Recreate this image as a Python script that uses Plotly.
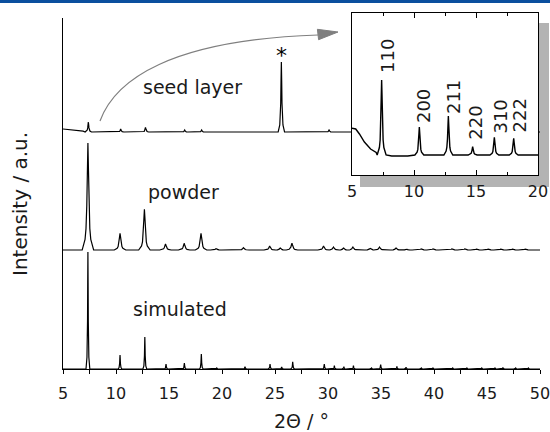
import numpy as np
import plotly.graph_objects as go

# ---------------- data ----------------
# simulated pattern: peak positions (2θ / °) and heights (a.u.)
sim_pos = [7.35, 10.38, 12.72, 14.72, 16.45, 18.05, 19.5, 22.17, 24.53, 25.63,
           26.67, 29.65, 30.6, 31.5, 32.4, 34.1, 34.97, 36.5, 37.36, 38.8,
           39.9, 41.76, 43.1, 44.5, 45.75, 46.5, 47.7, 48.9]
sim_h = [117, 14, 32, 5, 6, 15, 1, 2.3, 5, 2,
         7.3, 5, 3.3, 2.3, 3.3, 1, 4.3, 2.7, 1.7, 1,
         1, 1, 1, 1, 1, 1.5, 1, 1]

# powder pattern
pow_pos = [7.35, 10.38, 12.68, 14.67, 16.43, 18.02, 19.45, 22.02, 24.5, 25.5,
           26.6, 29.58, 30.52, 31.47, 32.35, 33.98, 34.86, 36.42, 37.4, 38.78,
           39.9, 41.68, 42.9, 44.0, 45.1, 46.3, 47.4, 48.6]
pow_h = [107, 16.7, 40.7, 6, 6.7, 16.7, 1.5, 2.3, 4, 2,
         6.7, 4, 3, 2, 3, 1.5, 3, 2, 1, 1,
         1, 1, 1, 0.8, 0.8, 0.8, 0.8, 0.8]

# seed layer pattern (main panel)
seed_pos = [7.39, 10.44, 12.78, 16.48, 18.08, 25.6, 30.1]
seed_h = [10, 3, 4.7, 2, 2, 70, 2]
seed_base_x = [5, 6.0, 6.9, 50]
seed_base_y = [3, 2, 0.8, 0]

# seed layer pattern (inset, 5-20°)
ins_pos = [7.39, 10.43, 12.77, 14.73, 16.48, 18.04]
ins_h = [75, 28, 39, 8.3, 17.7, 16.7]
ins_labels = ["110", "200", "211", "220", "310", "222"]
ins_label_x = [7.82, 10.73, 13.15, 14.9, 16.9, 18.5]
ins_label_y = [99, 49, 58, 32, 38, 40]
ins_base_x = [5, 5.3, 5.6, 6.0, 6.5, 6.95, 8.2, 9.5, 11.5, 20]
ins_base_y = [26.7, 26, 21, 13, 6, 2.5, -1, -1, 0, 0]

# vertical offsets of the stacked patterns
offsets = {"simulated": 0, "powder": 119, "seed layer": 237}
main_ticks = [5, 10, 15, 20, 25, 30, 35, 40, 45, 50]
inset_ticks = [5, 10, 15, 20]

# ---------------- style ----------------
FONT = "DejaVu Sans"
TXT = "#1a1a1a"
# line-profile shape table (multiples of half width, relative height)
PROFILE_DX = np.array([-6, -3, -2, -1.2, -0.6, 0, 0.6, 1.2, 2, 3, 6])
PROFILE_Y = np.array([0, 0.1, 0.2, 0.41, 0.74, 1, 0.74, 0.41, 0.2, 0.1, 0])


def pattern(base_x, base_y, pos, h, w):
    xs = list(base_x)
    ys = list(base_y)
    for p, hh in zip(pos, h):
        xs += list(p + PROFILE_DX * w)
        ys += list(hh * PROFILE_Y)
    order = np.argsort(xs, kind="stable")
    return np.array(xs)[order], np.array(ys)[order]


fig = go.Figure()
line = dict(color="black", width=1.2)

x, y = pattern([5, 50], [0, 0], sim_pos, sim_h, 0.03)
fig.add_trace(go.Scatter(x=x, y=y + offsets["simulated"], mode="lines", line=line,
                         xaxis="x", yaxis="y", showlegend=False))
x, y = pattern([5, 50], [0, 0], pow_pos, pow_h, 0.09)
fig.add_trace(go.Scatter(x=x, y=y + offsets["powder"], mode="lines", line=line,
                         xaxis="x", yaxis="y", showlegend=False))
x, y = pattern(seed_base_x, seed_base_y, seed_pos, seed_h, 0.05)
fig.add_trace(go.Scatter(x=x, y=y + offsets["seed layer"], mode="lines", line=line,
                         xaxis="x", yaxis="y", showlegend=False))
x, y = pattern(ins_base_x, ins_base_y, ins_pos, ins_h, 0.06)
fig.add_trace(go.Scatter(x=x, y=y, mode="lines", line=dict(color="black", width=1.4),
                         xaxis="x2", yaxis="y2", showlegend=False))

# layout geometry
W, H = 550, 432
ML, MR, MT, MB = 63, 10, 13, 63
PW, PH = W - ML - MR, H - MT - MB


def pp(px, py):
    return (px - ML) / PW, (H - MB - py) / PH


shapes = []
# blue top band
x0, y0 = pp(0, 0); x1, y1 = pp(W, 3)
shapes.append(dict(type="rect", xref="paper", yref="paper", x0=x0, x1=x1, y0=y1, y1=y0,
                   fillcolor="#0b4f9e", line=dict(width=0), layer="above"))
# inset drop shadow
for (a, b, c, d) in [(538, 23, 549, 187), (360, 175, 538, 187)]:
    x0, y0 = pp(a, b); x1, y1 = pp(c, d)
    shapes.append(dict(type="rect", xref="paper", yref="paper", x0=x0, x1=x1, y0=y1, y1=y0,
                       fillcolor="#b3b3b3", line=dict(width=0), layer="below"))
# inset white background (sits above main traces, below inset trace)
shapes.append(dict(type="rect", xref="x2", yref="y2", x0=5, x1=20, y0=-20, y1=142,
                   fillcolor="white", line=dict(width=0), layer="below"))
# curved arrow
P = [pp(100, 121), pp(115, 80), pp(170, 40), pp(318, 35)]
path = "M {} {} C {} {} {} {} {} {}".format(*[v for p in P for v in p])
shapes.append(dict(type="path", xref="paper", yref="paper", path=path,
                   line=dict(color="#7f7f7f", width=1.2), layer="above"))
T = [pp(338, 32), pp(317.4, 29.3), pp(318.6, 39.7)]
path = "M {} {} L {} {} L {} {} Z".format(*[v for p in T for v in p])
shapes.append(dict(type="path", xref="paper", yref="paper", path=path,
                   fillcolor="#7f7f7f", line=dict(color="#7f7f7f", width=1), layer="above"))

annotations = []
# series labels
for text, xx, yy in [("seed layer", 17.17, 282), ("powder", 16.4, 177), ("simulated", 16.0, 59.7)]:
    annotations.append(dict(text=text, x=xx, y=yy, xref="x", yref="y", showarrow=False,
                            xanchor="center", yanchor="middle",
                            font=dict(family=FONT, size=19, color=TXT)))
annotations.append(dict(text="*", x=25.6, y=313, xref="x", yref="y", showarrow=False,
                        xanchor="center", yanchor="middle",
                        font=dict(family=FONT, size=22, color="black")))
for t, xx, yy in zip(ins_labels, ins_label_x, ins_label_y):
    annotations.append(dict(text=t, x=xx, y=yy, xref="x2", yref="y2", showarrow=False,
                            xanchor="center", yanchor="middle",
                            textangle=-90, font=dict(family=FONT, size=18, color=TXT)))
annotations.append(dict(text="Intensity / a.u.", x=(20 - ML) / PW, y=pp(0, 204)[1],
                        xref="paper", yref="paper", showarrow=False, textangle=-90,
                        xanchor="center", yanchor="middle",
                        font=dict(family=FONT, size=20, color=TXT)))

fig.update_layout(
    width=W, height=H,
    margin=dict(l=ML, r=MR, t=MT, b=MB, pad=0, autoexpand=False),
    paper_bgcolor="white", plot_bgcolor="rgba(0,0,0,0)",
    shapes=shapes, annotations=annotations,
    xaxis=dict(domain=[0, 1], range=[5, 50], showline=True, linecolor="black", linewidth=1.2,
               ticks="outside", ticklen=4, tickwidth=1, tickcolor="black",
               tickvals=main_ticks, ticktext=[str(v) for v in main_ticks],
               minor=dict(dtick=2.5, tick0=5, ticks="outside", ticklen=4, tickcolor="black"),
               showgrid=False, zeroline=False, automargin=False, ticklabelstandoff=6,
               ticklabeloverflow="allow",
               tickfont=dict(family=FONT, size=16, color=TXT),
               title=dict(text="2Θ / °", font=dict(family=FONT, size=19, color=TXT), standoff=14)),
    yaxis=dict(domain=[0, (PH - 5) / PH], range=[0, PH - 5], showline=True, linecolor="black",
               linewidth=1.2, ticks="", showticklabels=False, showgrid=False, zeroline=False,
               automargin=False),
    xaxis2=dict(domain=[(352 - ML) / PW, (538 - ML) / PW], range=[5, 20], anchor="y2",
                showline=True, linecolor="black", linewidth=1.2, mirror="allticks",
                ticks="inside", ticklen=5, tickwidth=1, tickcolor="black",
                tickvals=inset_ticks, ticktext=[str(v) for v in inset_ticks],
                minor=dict(dtick=2.5, tick0=5, ticks="inside", ticklen=3, tickcolor="black"),
                showgrid=False, zeroline=False, automargin=False, ticklabelstandoff=2,
                ticklabeloverflow="allow",
                tickfont=dict(family=FONT, size=16, color=TXT)),
    yaxis2=dict(domain=[(H - MB - 175) / PH, 1], range=[-20, 142], anchor="x2",
                showline=True, linecolor="black", linewidth=1.2, mirror=True,
                ticks="", showticklabels=False, showgrid=False, zeroline=False,
                automargin=False),
)

fig.write_html("out.html")
